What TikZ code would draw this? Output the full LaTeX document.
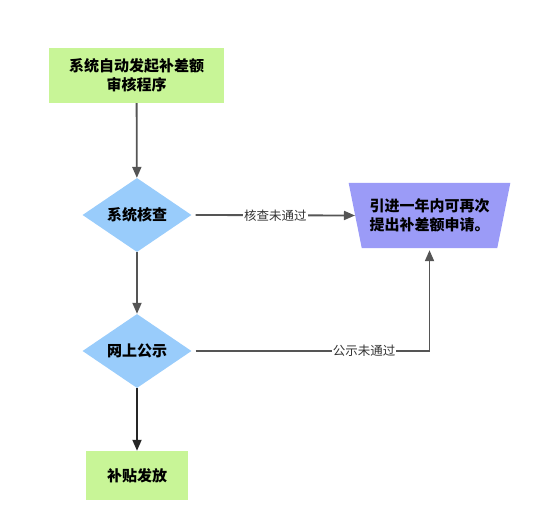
\documentclass[tikz,border=0pt]{standalone}
\usepackage{fontspec}
\setmainfont{Noto Sans CJK SC}
\usetikzlibrary{arrows.meta, positioning, shapes.geometric}
\definecolor{stepgreen}{HTML}{C8F597}
\definecolor{checkblue}{HTML}{99CCFB}
\definecolor{retrypurple}{HTML}{9B9BF7}
\definecolor{linegray}{HTML}{555555}

\begin{document}
\begin{tikzpicture}[x=1pt, y=-1pt,
  stepbox/.style={fill=stepgreen, draw=none, font=\bfseries\fontsize{15}{19}\selectfont, align=center},
  checkbox/.style={diamond, fill=checkblue, draw=none, aspect=1.47, inner sep=0pt, minimum width=109pt, minimum height=74pt, font=\bfseries\fontsize{15}{18}\selectfont},
  flow/.style={-{Triangle[length=11pt, width=9pt]}, linegray, line width=1.8pt},
  tag/.style={fill=white, inner sep=1pt, font=\fontsize{12.5}{14}\selectfont, text=black!80}]
  \useasboundingbox (0,0) rectangle (541,532);
  % Boxes
  \node[stepbox, minimum width=175pt, minimum height=55pt] (start) at (136.5,75.5) {系统自动发起补差额\\审核程序};
  \node[checkbox] (review) at (137,215) {系统核查};
  \node[checkbox] (publicity) at (137,351) {网上公示};
  \node[stepbox, minimum width=102pt, minimum height=49pt] (payout) at (137,475.5) {补贴发放};
  \node[trapezium, trapezium angle=70.9, trapezium stretches=true, shape border rotate=180,
    minimum width=162pt, minimum height=65pt, fill=retrypurple, draw=none, inner sep=0pt,
    font=\bfseries\fontsize{15}{19}\selectfont, align=left] (retry) at (429.5,215.5)
    {引进一年内可再次\\提出补差额申请。};
  % Connectors
  \draw[flow] (start) -- (review);
  \draw[flow] (review) -- (publicity);
  \draw[flow, black!85] (publicity) -- (payout);
  \draw[flow] ([xshift=4pt]review.east) -- node[tag] {核查未通过} (retry.west);
  \draw[flow] ([xshift=4pt]publicity.east) -| node[tag, pos=0.36] {公示未通过} ([yshift=-2pt]retry.south);
\end{tikzpicture}
\end{document}
